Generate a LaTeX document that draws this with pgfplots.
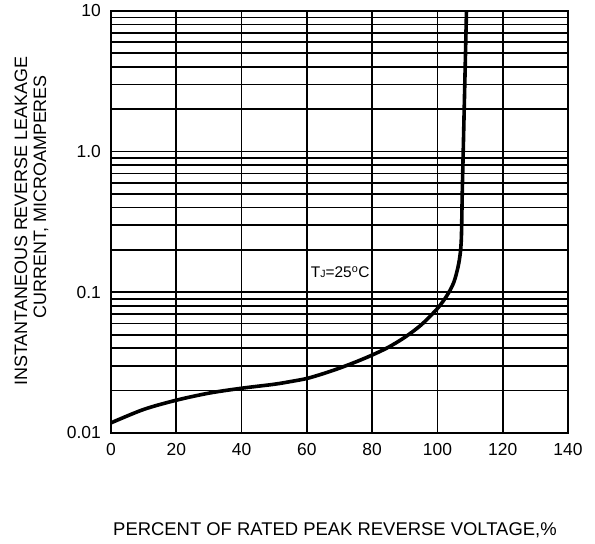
\documentclass[border=0pt]{standalone}
\usepackage{fontspec}
\setmainfont{Liberation Sans}
\usepackage{pgfplots}
\pgfplotsset{compat=1.18}

\pgfplotstableread{
x      y
0      0.0118
10     0.0147
20     0.0171
30     0.0192
40     0.0208
50     0.0222
55     0.0232
60     0.0244
65     0.0264
70     0.0289
75     0.0320
80     0.0358
85     0.0407
90     0.0479
95     0.0586
100    0.0767
103    0.0955
105    0.1175
106.3  0.1510
107.0  0.1900
107.35 0.2500
107.6  0.5000
107.9  1.0000
108.25 2.2400
108.6  5.0000
108.9  10.000
}\leakage

\begin{document}
\begin{tikzpicture}
\begin{axis}[
    scale only axis,
    width=457bp, height=422bp,
    xmin=0, xmax=140,
    ymode=log, ymin=0.01, ymax=10,
    xtick={0,20,...,140},
    xticklabels={0,20,40,60,80,100,120,140},
    ytick={0.01,0.1,1,10},
    yticklabels={0.01,0.1,1.0,10},
    grid=both,
    major grid style={black, line width=1.7bp},
    minor grid style={black, line width=1.7bp},
    major tick length=0pt, minor tick length=0pt,
    axis line style={line width=2.2bp},
    tick label style={font=\fontsize{17.5}{20}\selectfont},
    xticklabel style={inner sep=0pt, anchor=north, yshift=-10bp},
    yticklabel style={inner sep=0pt, anchor=east, xshift=-10bp},
    clip mode=individual,
]
\addplot[black, line width=3.6bp, smooth, tension=0.5] table {\leakage};

\node[font=\fontsize{15.5}{18}\selectfont] at (axis cs:70.2,0.139)
    {T{\fontsize{10.5}{10}\selectfont J}=25\textsuperscript{o}C};

\node[rotate=90, font=\fontsize{18}{20}\selectfont]
    at (rel axis cs:-0.197,0.502) {INSTANTANEOUS REVERSE LEAKAGE};
\node[rotate=90, font=\fontsize{18}{20}\selectfont]
    at (rel axis cs:-0.153,0.560) {CURRENT, MICROAMPERES};
\node[font=\fontsize{18.5}{22}\selectfont]
    at (rel axis cs:0.49,-0.23) {PERCENT OF RATED PEAK REVERSE VOLTAGE,\%};

\coordinate (bb1) at (rel axis cs:-0.2429,-0.263);
\coordinate (bb2) at (rel axis cs:1.0591,1.026);
\end{axis}
\pgfresetboundingbox
\useasboundingbox (bb1) rectangle (bb2);
\end{tikzpicture}
\end{document}
